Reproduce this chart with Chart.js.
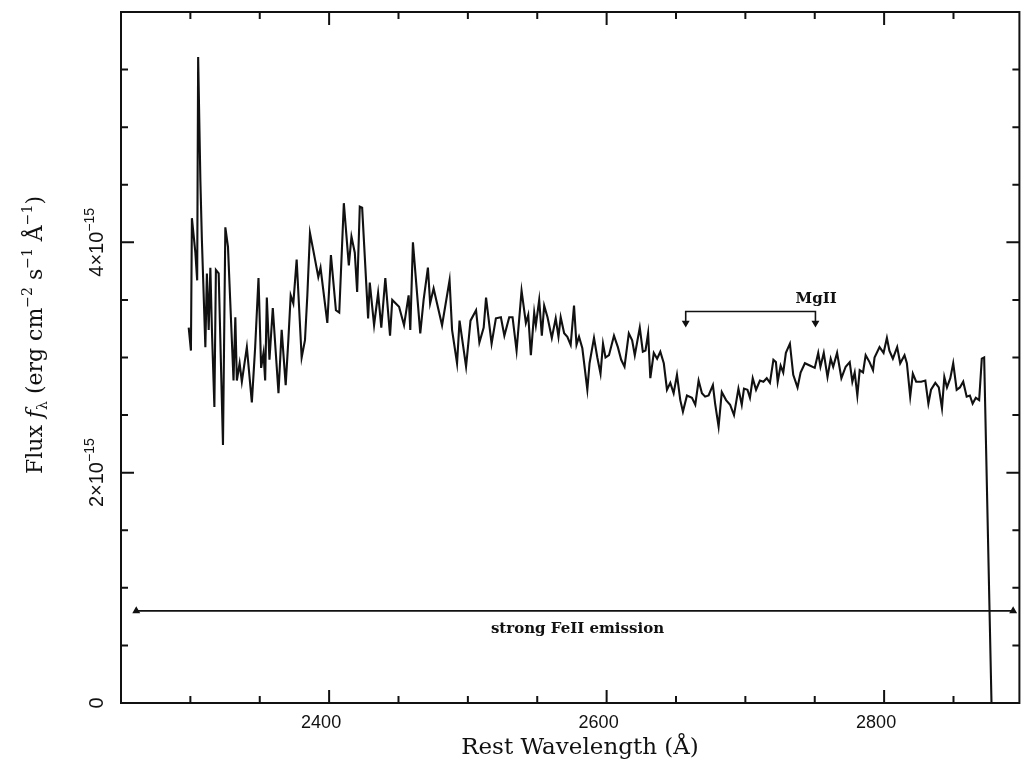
<!DOCTYPE html>
<html>
<head>
<meta charset="utf-8">
<script src="https://cdn.jsdelivr.net/npm/chart.js@4.4.0/dist/chart.umd.min.js"></script>
<style>
  html, body { margin: 0; padding: 0; background: #fff; }
</style>
</head>
<body>
<canvas id="spectrumChart" width="1025" height="763"></canvas>
<script>
// Rest wavelength (Å)
const wavelength = [
  2298.8, 2300.4, 2301.1, 2303.6, 2304.9, 2305.6, 2307.2, 2308.3, 2310.8, 2311.9,
  2313.2, 2314.4, 2315.6, 2317.3, 2318.4, 2320.4, 2323.5, 2325.2, 2327.1, 2331.1,
  2332.4, 2333.5, 2335.5, 2337.1, 2340.7, 2344.3, 2346.7, 2349.1, 2351.0, 2352.7,
  2353.9, 2355.1, 2357.0, 2359.4, 2363.5, 2365.8, 2368.7, 2370.6, 2372.3, 2374.2,
  2376.6, 2380.2, 2382.6, 2384.3, 2386.2, 2388.6, 2392.2, 2393.8, 2398.7, 2401.3,
  2404.9, 2407.3, 2410.6, 2414.2, 2416.1, 2418.5, 2420.2, 2422.1, 2423.8, 2428.1,
  2429.3, 2432.4, 2435.3, 2437.6, 2440.5, 2443.9, 2445.5, 2450.4, 2454.0, 2457.3,
  2458.5, 2460.4, 2465.7, 2468.1, 2471.2, 2472.8, 2475.3, 2481.4, 2486.8, 2488.6,
  2492.2, 2494.0, 2498.7, 2501.9, 2505.9, 2508.3, 2511.4, 2513.1, 2517.1, 2520.2,
  2523.8, 2526.3, 2529.8, 2532.2, 2535.1, 2538.7, 2541.8, 2543.5, 2545.4, 2547.8,
  2549.0, 2551.4, 2553.3, 2555.0, 2557.4, 2560.5, 2563.3, 2565.3, 2566.9, 2569.4,
  2571.7, 2574.1, 2576.5, 2578.3, 2580.1, 2582.5, 2586.1, 2587.7, 2590.9, 2593.3,
  2595.6, 2597.4, 2599.2, 2601.7, 2605.3, 2608.1, 2610.5, 2612.9, 2616.0, 2618.4,
  2620.3, 2623.9, 2626.1, 2628.0, 2629.9, 2631.5, 2634.0, 2636.4, 2638.7, 2641.2,
  2643.5, 2645.9, 2648.3, 2650.7, 2653.1, 2655.0, 2657.9, 2661.5, 2663.9, 2666.3,
  2668.7, 2671.0, 2673.5, 2676.6, 2678.2, 2680.7, 2683.0, 2686.1, 2689.0, 2691.8,
  2695.0, 2697.4, 2699.0, 2701.5, 2703.3, 2705.3, 2707.7, 2710.5, 2713.0, 2715.4,
  2717.7, 2720.2, 2722.0, 2723.3, 2725.4, 2727.3, 2729.2, 2732.1, 2734.5, 2737.6,
  2739.8, 2742.9, 2746.4, 2750.0, 2752.5, 2754.1, 2756.5, 2759.2, 2761.5, 2763.3,
  2766.1, 2769.2, 2772.3, 2775.2, 2777.1, 2778.8, 2780.7, 2782.4, 2784.8, 2786.7,
  2789.5, 2792.0, 2793.1, 2796.7, 2799.6, 2802.0, 2803.8, 2806.3, 2809.4, 2811.6,
  2814.7, 2816.4, 2818.8, 2820.7, 2823.1, 2826.7, 2829.7, 2831.9, 2833.8, 2836.9,
  2839.4, 2841.7, 2843.4, 2845.3, 2847.7, 2849.8, 2852.3, 2854.6, 2857.0, 2859.5,
  2861.8, 2863.8, 2866.1, 2868.5, 2870.4, 2872.1, 2877.4
];

// Flux f_lambda in units of 1e-15 erg cm^-2 s^-1 Å^-1
const flux = [
  3.26, 3.06, 4.21, 3.91, 3.67, 5.61, 4.54, 4.02, 3.09, 3.73,
  3.24, 3.78, 3.21, 2.57, 3.76, 3.73, 2.24, 4.13, 3.96, 2.80,
  3.35, 2.80, 2.95, 2.79, 3.09, 2.61, 3.09, 3.69, 2.91, 3.04,
  2.80, 3.52, 2.98, 3.43, 2.69, 3.24, 2.76, 3.15, 3.54, 3.47,
  3.85, 3.00, 3.15, 3.54, 4.08, 3.93, 3.70, 3.78, 3.30, 3.89,
  3.41, 3.39, 4.34, 3.80, 4.05, 3.91, 3.57, 4.31, 4.30, 3.34,
  3.65, 3.28, 3.56, 3.26, 3.69, 3.19, 3.50, 3.44, 3.28, 3.54,
  3.24, 4.00, 3.21, 3.50, 3.78, 3.47, 3.60, 3.28, 3.67, 3.24,
  2.95, 3.32, 2.92, 3.32, 3.41, 3.13, 3.26, 3.52, 3.12, 3.34,
  3.35, 3.19, 3.35, 3.35, 3.06, 3.58, 3.30, 3.37, 3.02, 3.39,
  3.28, 3.50, 3.19, 3.45, 3.35, 3.17, 3.34, 3.18, 3.35, 3.21,
  3.18, 3.11, 3.45, 3.11, 3.18, 3.08, 2.72, 2.95, 3.17, 3.00,
  2.86, 3.12, 3.00, 3.02, 3.19, 3.09, 2.98, 2.92, 3.21, 3.15,
  3.02, 3.26, 3.05, 3.06, 3.21, 2.82, 3.04, 2.99, 3.05, 2.95,
  2.72, 2.78, 2.69, 2.85, 2.63, 2.53, 2.67, 2.65, 2.59, 2.80,
  2.69, 2.66, 2.67, 2.76, 2.60, 2.40, 2.70, 2.63, 2.59, 2.50,
  2.73, 2.59, 2.73, 2.72, 2.65, 2.82, 2.72, 2.80, 2.79, 2.82,
  2.78, 2.98, 2.96, 2.79, 2.93, 2.87, 3.04, 3.12, 2.85, 2.74,
  2.87, 2.95, 2.93, 2.91, 3.04, 2.92, 3.04, 2.83, 2.99, 2.92,
  3.04, 2.82, 2.92, 2.96, 2.79, 2.87, 2.67, 2.89, 2.87, 3.02,
  2.96, 2.89, 3.00, 3.09, 3.04, 3.17, 3.06, 2.99, 3.09, 2.95,
  3.02, 2.95, 2.66, 2.86, 2.79, 2.79, 2.80, 2.60, 2.72, 2.78,
  2.74, 2.56, 2.83, 2.74, 2.82, 2.95, 2.72, 2.74, 2.79, 2.66,
  2.67, 2.60, 2.65, 2.63, 2.99, 3.00, 0.00
];

// axis ranges and tick labels
const xRange = [2250, 2897.5];
const yRange = [0, 6];
const xTickLabels = [2400, 2600, 2800];
const yTickLabels = [0, 2, 4];

// annotations: FeII band and MgII bracket (wavelength, flux)
const feiiWave = [2261, 2893];
const feiiFlux = [0.80, 0.80];
const mgiiWave = [2657, 2657, 2750.5, 2750.5];
const mgiiFlux = [3.30, 3.40, 3.40, 3.30];

const INK = '#111';

// draws a row of text pieces (sub/superscripts) centred on the current origin
function drawRich(ctx, parts) {
    let total = 0;
    parts.forEach(p => { ctx.font = p.font; p.w = ctx.measureText(p.t).width; total += p.w; });
    let x = -total / 2;
    parts.forEach(p => {
        ctx.font = p.font;
        ctx.fillText(p.t, x, p.dy || 0);
        x += p.w;
    });
}

const framePlugin = {
    id: 'frame',
    afterDatasetsDraw(chart) {
        const ctx = chart.ctx;
        const a = chart.chartArea;
        const xs = chart.scales.x;
        const ys = chart.scales.y;
        ctx.save();
        ctx.strokeStyle = INK;
        ctx.fillStyle = INK;
        ctx.lineWidth = 2;
        ctx.strokeRect(a.left, a.top, a.right - a.left, a.bottom - a.top);

        // x ticks every 50 Å, long ones every 200 Å
        ctx.beginPath();
        for (let v = 2250; v <= xRange[1]; v += 50) {
            const px = xs.getPixelForValue(v);
            const len = v % 200 === 0 ? 13 : 7;
            ctx.moveTo(px, a.bottom); ctx.lineTo(px, a.bottom - len);
            ctx.moveTo(px, a.top); ctx.lineTo(px, a.top + len);
        }
        // y ticks every 0.5, long ones every 2
        for (let v = yRange[0]; v <= yRange[1]; v += 0.5) {
            const py = ys.getPixelForValue(v);
            const len = v % 2 === 0 ? 13 : 7;
            ctx.moveTo(a.left, py); ctx.lineTo(a.left + len, py);
            ctx.moveTo(a.right, py); ctx.lineTo(a.right - len, py);
        }
        ctx.stroke();

        // x tick labels
        ctx.font = '18px "Liberation Sans"';
        ctx.textAlign = 'center';
        ctx.textBaseline = 'middle';
        xTickLabels.forEach(v => {
            ctx.fillText(String(v), xs.getPixelForValue(v) - 8, 723);
        });

        // y tick labels, rotated
        ctx.textAlign = 'left';
        ctx.textBaseline = 'alphabetic';
        yTickLabels.forEach(v => {
            ctx.save();
            ctx.translate(103, ys.getPixelForValue(v));
            ctx.rotate(-Math.PI / 2);
            if (v === 0) {
                drawRich(ctx, [{ t: '0', font: '20px "Liberation Sans"' }]);
            } else {
                drawRich(ctx, [
                    { t: v + '×10', font: '20px "Liberation Sans"' },
                    { t: '−15', font: '14px "Liberation Sans"', dy: -9 }
                ]);
            }
            ctx.restore();
        });

        // axis titles
        ctx.save();
        ctx.translate(580, 754);
        drawRich(ctx, [{ t: 'Rest Wavelength (Å)', font: '23px "DejaVu Serif"' }]);
        ctx.restore();

        ctx.save();
        ctx.translate(42, 335);
        ctx.rotate(-Math.PI / 2);
        const big = '22px "DejaVu Serif"';
        const small = '14px "DejaVu Serif"';
        drawRich(ctx, [
            { t: 'Flux ', font: big },
            { t: 'f', font: 'italic ' + big },
            { t: 'λ', font: small, dy: 5 },
            { t: ' (erg cm', font: big },
            { t: '−2', font: small, dy: -10 },
            { t: ' s', font: big },
            { t: '−1', font: small, dy: -10 },
            { t: ' Å', font: big },
            { t: '−1', font: small, dy: -10 },
            { t: ')', font: big }
        ]);
        ctx.restore();

        // annotation labels
        ctx.textAlign = 'center';
        ctx.textBaseline = 'middle';
        ctx.font = 'bold 15px "DejaVu Serif"';
        ctx.fillText('strong FeII emission', xs.getPixelForValue(2579), ys.getPixelForValue(0.64));
        ctx.fillText('MgII', xs.getPixelForValue(2751), ys.getPixelForValue(3.51));
        ctx.restore();
    }
};

const ctx = document.getElementById('spectrumChart').getContext('2d');
const spectrumChart = new Chart(ctx, {
    type: 'line',
    data: {
        datasets: [
            {
                label: 'Spectrum',
                data: wavelength.map((w, i) => ({ x: w, y: flux[i] })),
                borderColor: INK,
                borderWidth: 2.1,
                pointRadius: 0,
                tension: 0
            },
            {
                label: 'FeII',
                data: feiiWave.map((w, i) => ({ x: w, y: feiiFlux[i] })),
                borderColor: INK,
                backgroundColor: INK,
                borderWidth: 1.6,
                pointStyle: 'triangle',
                pointRadius: 3,
                tension: 0
            },
            {
                label: 'MgII',
                data: mgiiWave.map((w, i) => ({ x: w, y: mgiiFlux[i] })),
                borderColor: INK,
                backgroundColor: INK,
                borderWidth: 1.6,
                pointStyle: 'triangle',
                pointRotation: 180,
                pointRadius: [3, 0, 0, 3],
                tension: 0
            }
        ]
    },
    options: {
        responsive: false,
        animation: false,
        layout: {
            padding: { left: 121, right: 2, top: 12, bottom: 60 }
        },
        plugins: {
            legend: { display: false },
            tooltip: { enabled: false }
        },
        scales: {
            x: {
                type: 'linear',
                min: xRange[0],
                max: xRange[1],
                display: false
            },
            y: {
                min: yRange[0],
                max: yRange[1],
                display: false
            }
        }
    },
    plugins: [framePlugin]
});
</script>
</body>
</html>
